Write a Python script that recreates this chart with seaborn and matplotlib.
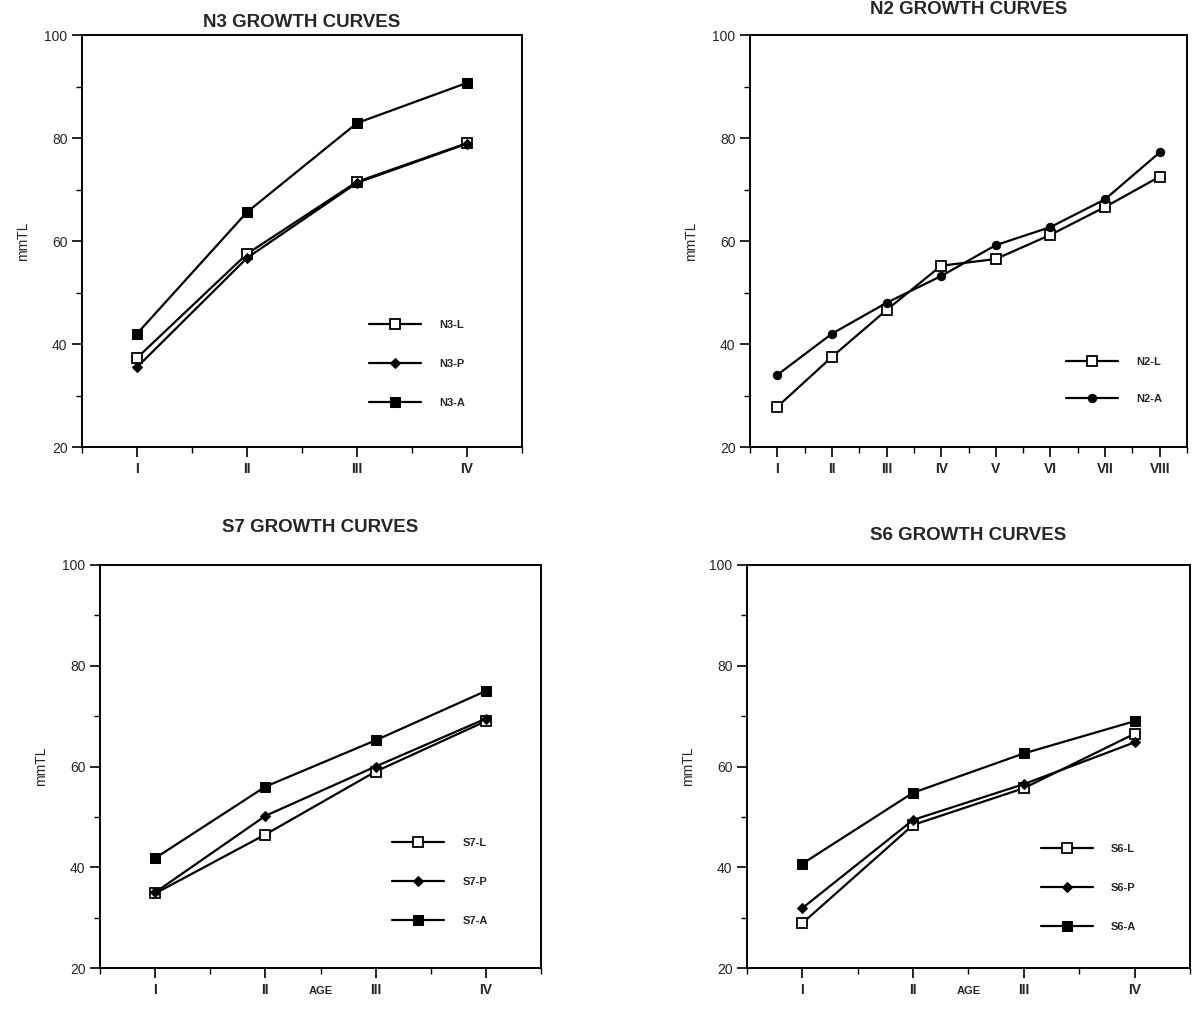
import numpy as np
import pandas as pd
import seaborn as sns
import matplotlib.pyplot as plt
from matplotlib.ticker import MultipleLocator

sns.set_theme(style="white")
plt.rcParams["font.family"] = ["Liberation Sans", "DejaVu Sans"]

# age classes
ages4 = ["I", "II", "III", "IV"]
ages8 = ["I", "II", "III", "IV", "V", "VI", "VII", "VIII"]

# N3 growth curves (mm TL)
n3_l = [37.3, 57.5, 71.5, 79.0]
n3_p = [35.5, 56.7, 71.3, 78.9]
n3_a = [42.0, 65.6, 82.9, 90.7]

# N2 growth curves
n2_l = [27.8, 37.5, 46.6, 55.2, 56.5, 61.2, 66.6, 72.5]
n2_a = [34.0, 42.0, 48.0, 53.2, 59.2, 62.7, 68.1, 77.2]

# S7 growth curves
s7_l = [34.8, 46.5, 59.0, 69.0]
s7_p = [35.0, 50.2, 60.0, 69.5]
s7_a = [41.8, 56.0, 65.2, 75.0]

# S6 growth curves
s6_l = [28.9, 48.4, 55.7, 66.5]
s6_p = [31.9, 49.4, 56.5, 64.8]
s6_a = [40.7, 54.8, 62.6, 69.0]

W, H = 1196, 1009
fig = plt.figure(figsize=(W / 100, H / 100), dpi=100)


def box(left, right, top, bottom):
    return [left / W, 1 - bottom / H, (right - left) / W, (bottom - top) / H]


styles = {
    "L": dict(marker="s", markerfacecolor="white", markersize=6.5, markeredgewidth=1.3),
    "P": dict(marker="D", markerfacecolor="black", markersize=5),
    "A": dict(marker="s", markerfacecolor="black", markersize=7),
    "C": dict(marker="o", markerfacecolor="black", markersize=6),
}


def panel(rect, title, ages, series, title_pad, show_age, leg_anchor, spacing):
    ax = fig.add_axes(rect)
    x = np.arange(1, len(ages) + 1)
    for name, vals, st in series:
        sns.lineplot(x=x, y=vals, ax=ax, color="black", linewidth=1.6,
                     markeredgecolor="black", label=name, **styles[st])
    ax.set_xlim(0.5, len(ages) + 0.5)
    ax.set_ylim(20, 100)
    ax.set_xticks(x)
    ax.set_xticklabels(ages, fontsize=10, fontweight="bold")
    ax.xaxis.set_minor_locator(MultipleLocator(0.5))
    ax.yaxis.set_major_locator(MultipleLocator(20))
    ax.yaxis.set_minor_locator(MultipleLocator(10))
    ax.tick_params(axis="both", which="both", direction="out", color="black",
                   bottom=True, left=True, top=False, right=False)
    ax.tick_params(axis="both", which="major", length=7, width=1.2)
    ax.tick_params(axis="both", which="minor", length=4, width=1.0)
    ax.tick_params(axis="y", labelsize=10)
    for s in ax.spines.values():
        s.set_color("black")
        s.set_linewidth(1.4)
    ax.set_title(title, fontsize=13.5, fontweight="bold", pad=title_pad)
    ax.set_ylabel("mmTL", fontsize=10, labelpad=10)
    ax.set_xlabel("")
    if show_age:
        ax.text(2.5, -0.045, "AGE", transform=ax.get_xaxis_transform(),
                ha="center", va="top", fontsize=8, fontweight="bold")
    ax.legend(loc="lower left", bbox_to_anchor=leg_anchor, frameon=False,
              handlelength=4.7, handletextpad=1.6, labelspacing=spacing,
              prop={"weight": "bold", "size": 8})
    return ax


panel(box(82, 522, 35, 447), "N3 GROWTH CURVES", ages4,
      [("N3-L", n3_l, "L"), ("N3-P", n3_p, "P"), ("N3-A", n3_a, "A")],
      6, False, (0.63, 0.07), 2.6)
panel(box(750, 1187, 35, 447), "N2 GROWTH CURVES", ages8,
      [("N2-L", n2_l, "L"), ("N2-A", n2_a, "C")],
      15, False, (0.70, 0.08), 2.4)
panel(box(100, 541, 565, 968), "S7 GROWTH CURVES", ages4,
      [("S7-L", s7_l, "L"), ("S7-P", s7_p, "P"), ("S7-A", s7_a, "A")],
      24, True, (0.64, 0.08), 2.6)
panel(box(747, 1190, 565, 968), "S6 GROWTH CURVES", ages4,
      [("S6-L", s6_l, "L"), ("S6-P", s6_p, "P"), ("S6-A", s6_a, "A")],
      18, True, (0.64, 0.065), 2.6)

fig.savefig("out.png", dpi=100)
